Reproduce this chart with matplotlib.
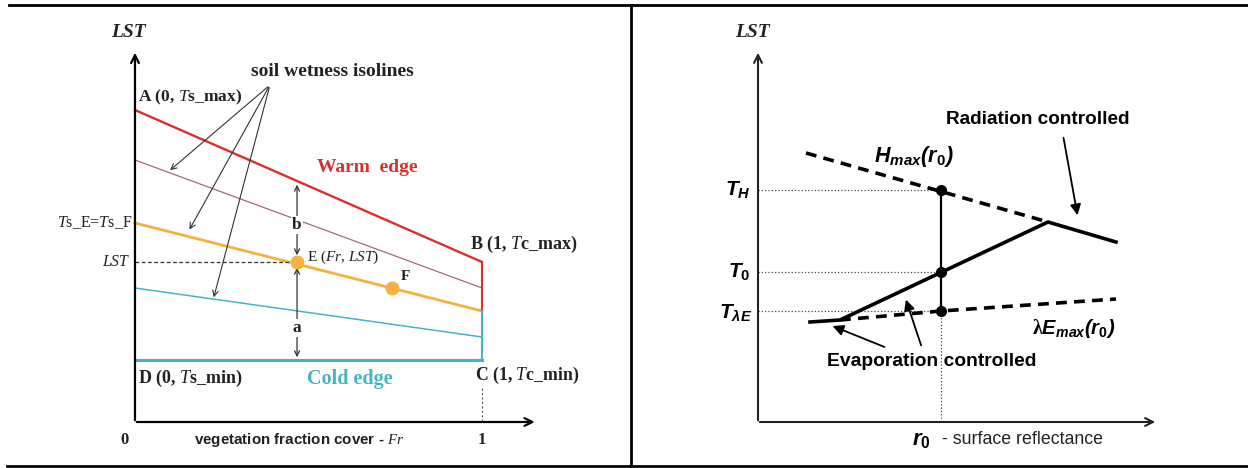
import matplotlib.pyplot as plt
from matplotlib.lines import Line2D

plt.rcParams['mathtext.fontset'] = 'custom'
plt.rcParams['mathtext.rm'] = 'Liberation Serif:bold'
plt.rcParams['mathtext.it'] = 'Liberation Serif:italic'
plt.rcParams['mathtext.bf'] = 'Liberation Serif:bold'
plt.rcParams['mathtext.sf'] = 'Liberation Sans:italic:bold'
plt.rcParams['mathtext.tt'] = 'Liberation Sans:bold'

# ---- left panel: LST vs vegetation fraction cover (Fr) ----
fr_edges = [0, 1]
warm_edge = [3.12, 1.60]       # A -> B
iso_purple = [2.62, 1.34]
iso_orange = [1.99, 1.11]      # isoline through E and F
iso_cyan = [1.34, 0.85]
cold_edge = [0.62, 0.62]       # D -> C
point_E = (0.467, 1.60)
point_F = (0.74, 1.34)
b_top = 2.40                   # warm edge above E
iso_arrow_tail = (0.389, 3.37)
iso_arrow_heads = [(0.095, 2.50), (0.153, 1.90), (0.225, 1.22)]

# ---- right panel: LST vs surface reflectance r0 ----
r0_value = 1.83
h_max = ([0.48, 2.90], [2.69, 2.00])
solid_r = [0.52, 0.82, 2.90, 3.58]
solid_lst = [1.00, 1.02, 2.00, 1.80]
le_max = ([0.82, 1.83, 3.58], [1.02, 1.11, 1.23])
t_h, t_0, t_le = 2.32, 1.50, 1.11

fig = plt.figure(figsize=(12.48, 4.68), dpi=100)
W, H = 1248, 468

axL = fig.add_axes([0, 0, 630 / W, 1])
axR = fig.add_axes([631 / W, 0, 617 / W, 1])
axL.set_xlim(-0.389, 1.4265)
axL.set_ylim(-0.46, 4.22)
axR.set_xlim(-1.27, 4.90)
axR.set_ylim(-0.46, 4.22)
for ax in (axL, axR):
    ax.axis('off')

# frame lines
fig.add_artist(Line2D([9 / W, 1], [1 - 5 / H, 1 - 5 / H], color='black', lw=2))
fig.add_artist(Line2D([7 / W, 1], [2 / H, 2 / H], color='black', lw=2))
fig.add_artist(Line2D([631 / W, 631 / W], [2 / H, 1 - 5 / H], color='black', lw=2))

serif = 'Liberation Serif'
sans = 'Liberation Sans'
red = '#d8302b'
purple = '#a56a80'
orange = '#f4b23e'
cyan = '#45b4c6'
dark = '#333333'
ink = '#222222'

# axes arrows (left)
axL.annotate('', xy=(0, 3.72), xytext=(0, -0.01),
             arrowprops=dict(arrowstyle='->', color='black', lw=1.6, mutation_scale=14))
axL.annotate('', xy=(1.16, 0), xytext=(-0.003, 0),
             arrowprops=dict(arrowstyle='->', color='black', lw=1.6, mutation_scale=14))

axL.plot(fr_edges, warm_edge, color=red, lw=1.7)
axL.plot(fr_edges, iso_purple, color=purple, lw=0.9)
axL.plot(fr_edges, iso_orange, color=orange, lw=2)
axL.plot(fr_edges, iso_cyan, color=cyan, lw=1.1)
axL.plot(fr_edges, cold_edge, color=cyan, lw=2.2)
axL.plot([1, 1], [warm_edge[1], iso_orange[1]], color=red, lw=1.5)
axL.plot([1, 1], [iso_orange[1], cold_edge[1]], color=cyan, lw=1.5)
axL.plot([0, point_E[0]], [point_E[1], point_E[1]], color=dark, lw=0.9, ls=(0, (3, 2)))
axL.plot([1, 1], [0.34, 0], color='#555555', lw=0.8, ls=(0, (2, 2)))

axL.plot(*point_E, 'o', color=orange, ms=9, zorder=5)
axL.plot(*point_F, 'o', color=orange, ms=9, zorder=5)

# b and a double arrows
axL.annotate('', xy=(point_E[0], b_top), xytext=(point_E[0], point_E[1] + 0.04),
             arrowprops=dict(arrowstyle='<->', color=dark, lw=0.9, mutation_scale=9))
axL.annotate('', xy=(point_E[0], point_E[1] - 0.03), xytext=(point_E[0], cold_edge[0]),
             arrowprops=dict(arrowstyle='<->', color=dark, lw=0.9, mutation_scale=9))
axL.text(point_E[0], 1.97, 'b', ha='center', va='center', fontsize=12.5, fontfamily=serif,
         fontweight='bold', color=ink, bbox=dict(fc='white', ec='none', pad=1))
axL.text(point_E[0], 0.94, 'a', ha='center', va='center', fontsize=12.5, fontfamily=serif,
         fontweight='bold', color=ink, bbox=dict(fc='white', ec='none', pad=1))

for head in iso_arrow_heads:
    axL.annotate('', xy=head, xytext=iso_arrow_tail,
                 arrowprops=dict(arrowstyle='->', color=dark, lw=0.8, mutation_scale=10))

axL.text(-0.02, 3.89, 'LST', ha='center', va='center', fontsize=14, fontfamily=serif,
         fontstyle='italic', fontweight='bold', color=ink)
axL.text(0.568, 3.50, 'soil wetness isolines', ha='center', va='center', fontsize=14,
         fontfamily=serif, fontweight='bold', color=ink)
axL.text(0.009, 3.25, r'A (0, $\mathit{T}$s_max)', ha='left', va='center', fontsize=12.5,
         fontfamily=serif, fontweight='bold', color=ink)
axL.text(0.669, 2.54, 'Warm  edge', ha='center', va='center', fontsize=14,
         fontfamily=serif, fontweight='bold', color=red)
axL.text(-0.009, 1.99, r'$\mathit{T}$s_E=$\mathit{T}$s_F', ha='right', va='center', fontsize=11.5,
         fontfamily=serif, color=ink)
axL.text(-0.02, 1.60, 'LST', ha='right', va='center', fontsize=11.5,
         fontfamily=serif, fontstyle='italic', color=ink)
axL.text(0.496, 1.65, r'E ($\mathit{Fr}$, $\mathit{LST}$)', ha='left', va='center', fontsize=11,
         fontfamily=serif, color=ink)
axL.text(0.767, 1.45, 'F', ha='left', va='center', fontsize=11,
         fontfamily=serif, fontweight='bold', color=ink)
axL.text(0.965, 1.78, r'B (1, $\mathit{T}$c_max)', ha='left', va='center', fontsize=13,
         fontfamily=serif, fontweight='bold', color=ink)
axL.text(0.009, 0.44, r'D (0, $\mathit{T}$s_min)', ha='left', va='center', fontsize=13,
         fontfamily=serif, fontweight='bold', color=ink)
axL.text(0.62, 0.43, 'Cold edge', ha='center', va='center', fontsize=14.5,
         fontfamily=serif, fontweight='bold', color=cyan)
axL.text(0.98, 0.47, r'C (1, $\mathit{T}$c_min)', ha='left', va='center', fontsize=12.8,
         fontfamily=serif, fontweight='bold', color=ink)
axL.text(-0.029, -0.18, '0', ha='center', va='center', fontsize=12,
         fontfamily=serif, fontweight='bold', color=ink)
axL.text(1.0, -0.18, '1', ha='center', va='center', fontsize=12,
         fontfamily=serif, fontweight='bold', color=ink)
axL.text(0.473, -0.18, r'vegetation fraction cover - $\mathit{Fr}$', ha='center', va='center',
         fontsize=10.9, fontfamily=sans, fontweight='bold', color=ink)

# ---- right panel ----
axR.annotate('', xy=(0, 3.72), xytext=(0, -0.01),
             arrowprops=dict(arrowstyle='->', color=ink, lw=1.5, mutation_scale=14))
axR.annotate('', xy=(4.0, 0), xytext=(-0.01, 0),
             arrowprops=dict(arrowstyle='->', color=ink, lw=1.5, mutation_scale=14))

for t in (t_h, t_0, t_le):
    axR.plot([0, r0_value], [t, t], color='#444444', lw=0.9, ls=':')
axR.plot([r0_value, r0_value], [t_le, 0], color='#444444', lw=0.9, ls=':')
axR.plot([r0_value, r0_value], [t_h, t_le], color='black', lw=1.6)

axR.plot(*h_max, color='black', lw=2.6, dashes=(3, 2))
axR.plot(*le_max, color='black', lw=2.6, dashes=(3, 2))
axR.plot(solid_r, solid_lst, color='black', lw=2.6)
axR.plot([r0_value] * 3, [t_h, t_0, t_le], 'o', color='black', ms=7, zorder=5)

axR.text(-0.06, 3.89, 'LST', ha='center', va='center', fontsize=14, fontfamily=serif,
         fontstyle='italic', fontweight='bold', color=ink)
axR.text(-0.07, t_h, r'$\mathsf{T_H}$', ha='right', va='center', fontsize=15)
axR.text(-0.07, t_0, r'$\mathsf{T}_\mathtt{0}$', ha='right', va='center', fontsize=15)
axR.text(-0.06, t_le - 0.02, r'$\mathsf{T_{\lambda E}}$', ha='right', va='center', fontsize=15)
axR.text(1.56, 2.65, r'$\mathsf{H_{max}(r}_\mathtt{0}\mathsf{)}$', ha='center', va='center',
         fontsize=15.5)
axR.text(3.16, 0.94, r'$\mathrm{\lambda}\mathsf{E_{max}(r}_\mathtt{0}\mathsf{)}$', ha='center',
         va='center', fontsize=14.5)
axR.text(2.80, 3.02, 'Radiation controlled', ha='center', va='center', fontsize=13.7,
         fontfamily=sans, fontweight='bold')
axR.text(1.74, 0.60, 'Evaporation controlled', ha='center', va='center', fontsize=13.9,
         fontfamily=sans, fontweight='bold')
axR.text(1.63, -0.18, r'$\mathsf{r}_\mathtt{0}$', ha='center', va='center', fontsize=16)
axR.text(1.84, -0.18, '- surface reflectance', ha='left', va='center', fontsize=12.8,
         fontfamily=sans, color=ink)

arrow_kw = dict(arrowstyle='-|>', color='black', lw=1.3, mutation_scale=16)
axR.annotate('', xy=(3.20, 2.04), xytext=(3.05, 2.87), arrowprops=arrow_kw)
axR.annotate('', xy=(0.72, 0.97), xytext=(1.29, 0.74), arrowprops=arrow_kw)
axR.annotate('', xy=(1.47, 1.25), xytext=(1.64, 0.74), arrowprops=arrow_kw)

fig.savefig('out.png', dpi=100)
